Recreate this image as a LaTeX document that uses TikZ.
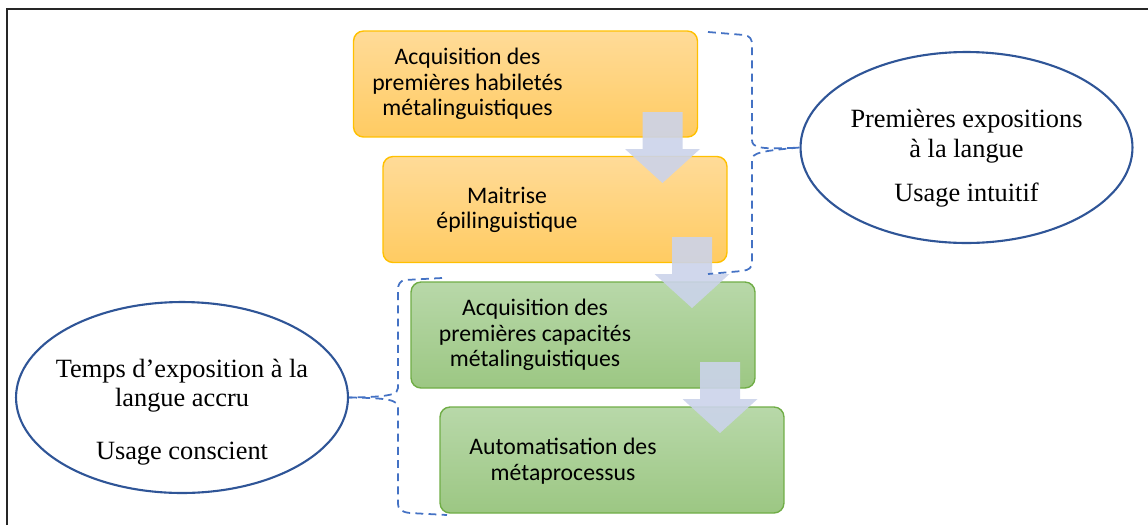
\documentclass[tikz,border=0pt]{standalone}
\usepackage{fontspec}
\setmainfont{Liberation Serif}
\newfontfamily\boxfont{Carlito}
\usetikzlibrary{shapes.geometric}

\definecolor{orangeline}{HTML}{FFC000}
\definecolor{orangetop}{HTML}{FFDB98}
\definecolor{orangebot}{HTML}{FFCB62}
\definecolor{greenline}{HTML}{70AD47}
\definecolor{greentop}{HTML}{B8D8A9}
\definecolor{greenbot}{HTML}{9CC783}
\definecolor{arrowblue}{HTML}{CBD3EA}
\definecolor{bracketblue}{HTML}{4472C4}
\definecolor{ellipseblue}{HTML}{2F5597}

\begin{document}
\begin{tikzpicture}[x=0.02cm, y=-0.02cm,
                    stage/.style={rectangle, rounded corners=0.2cm, line width=0.8pt,
                                  minimum width=6.88cm, minimum height=2.12cm},
                    orangebox/.style={stage, draw=orangeline, top color=orangetop, bottom color=orangebot},
                    greenbox/.style={stage, draw=greenline, top color=greentop, bottom color=greenbot},
                    boxtext/.style={align=center, font=\boxfont\fontsize{13.5}{14.6}\selectfont},
                    bubble/.style={ellipse, draw=ellipseblue, line width=1.2pt,
                                   minimum width=6.64cm, minimum height=3.82cm},
                    bubbletext/.style={align=center, font=\fontsize{15}{17}\selectfont},
                    bracket/.style={draw=bracketblue, line width=1pt, dash pattern=on 4.5pt off 3pt},
                    flowarrow/.style={fill=arrowblue, fill opacity=0.9},
                    blockarrow/.pic={
                      \fill[flowarrow] (-20,0) -- (20,0) -- (20,37) -- (37.5,37) -- (0,71)
                                       -- (-37.5,37) -- (-20,37) -- cycle;
                    }]

    \useasboundingbox (0,0) rectangle (1148,525);

    % frame (open on the right and at the bottom)
    \draw[line width=1.7pt, black!85] (7,525) -- (7,9) -- (1148,9);

    % stages, one below the other
    \node[orangebox] (b1) at (525.5,84) {}; % first stage
    \node[orangebox] (b2) at (555,209.5) {};
    \node[greenbox] (b3) at (583,335) {};
    \node[greenbox] (b4) at (612,460) {}; % last stage

    \node[boxtext] (t1) at (467.5,84) {Acquisition des\\premières habiletés\\métalinguistiques};
    \node[boxtext] (t2) at (507,210) {Maitrise\\épilinguistique};
    \node[boxtext] (t3) at (535,335) {Acquisition des\\premières capacités\\métalinguistiques};
    \node[boxtext] (t4) at (563,461) {Automatisation des\\métaprocessus};

    % arrows between the stages
    \pic at (662.5,112) {blockarrow};
    \pic at (692,237) {blockarrow};
    \pic at (720,362) {blockarrow};

    % the two ellipses
    \node[bubble] (e1) at (966.5,147.5) {};
    \node[bubbletext] (l1) at (966.5,158) {Premières expositions\\à la langue\\[8pt]Usage intuitif};
    \node[bubble] (e2) at (182,397.5) {};
    \node[bubbletext] (l2) at (182,412) {Temps d’exposition à la\\langue accru\\[13pt]Usage conscient};

    % brackets grouping the stages
    \coordinate (rtop) at (708,32);
    \coordinate (rbot) at (708,274);
    \coordinate (ltop) at (442,278);
    \coordinate (lbot) at (447,515);

    \draw[bracket] (rtop) -- (744,35) .. controls (750,36) and (752,39) .. (752,45) -- (752,140)
                   .. controls (752,147) and (758,150) .. (e1.west);
    \draw[bracket] (e1.west) .. controls (760,151) and (752,153) .. (752,160) -- (752,262)
                   .. controls (752,268) and (749,270) .. (742,271) -- (rbot);
    \draw[bracket] (ltop) -- (405,280) .. controls (400,281) and (398,284) .. (398,290) -- (398,388)
                   .. controls (398,394) and (392,397) .. (e2.east);
    \draw[bracket] (e2.east) .. controls (390,398) and (398,400) .. (398,408) -- (398,503)
                   .. controls (398,510) and (402,512) .. (410,513) -- (lbot);
\end{tikzpicture}
\end{document}
